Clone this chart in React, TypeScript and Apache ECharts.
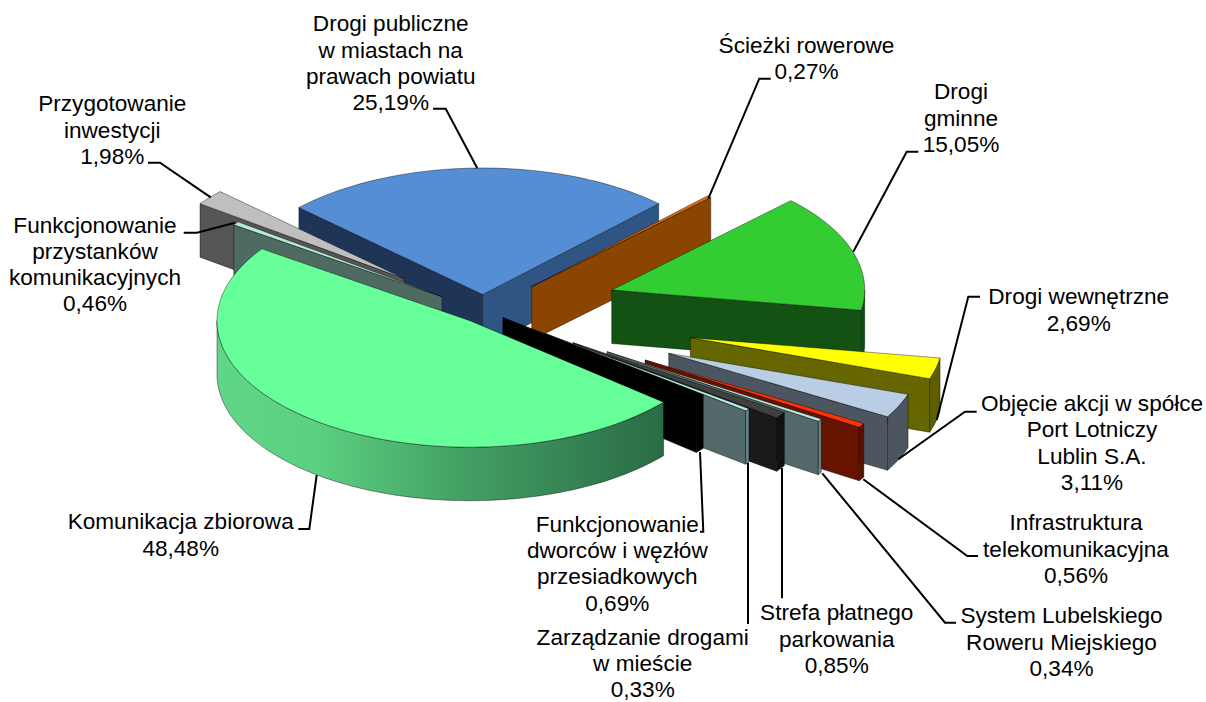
import React, { useEffect, useRef } from "react";
import * as echarts from "echarts";

// ---- data, in the pie's clockwise order
const sliceNames = [
  "Drogi publiczne\nw miastach na\nprawach powiatu",
  "Ścieżki rowerowe",
  "Drogi\ngminne",
  "Drogi wewnętrzne",
  "Objęcie akcji w spółce\nPort Lotniczy\nLublin S.A.",
  "Infrastruktura\ntelekomunikacyjna",
  "System Lubelskiego\nRoweru Miejskiego",
  "Strefa płatnego\nparkowania",
  "Zarządzanie drogami\nw mieście",
  "Funkcjonowanie\ndworców i węzłów\nprzesiadkowych",
  "Komunikacja zbiorowa",
  "Funkcjonowanie\nprzystanków\nkomunikacyjnych",
  "Przygotowanie\ninwestycji",
];
const sliceValues = [25.19, 0.27, 15.05, 2.69, 3.11, 0.56, 0.34, 0.85, 0.33, 0.69, 48.48, 0.46, 1.98];

// ---- styling, same order
const topColors = ["#558ed5", "#e46c0a", "#33cc33", "#ffff00", "#b9cde5", "#ff3300", "#b5ece6", "#404040", "#b5ece6", "#000000", "#66ff99", "#b5ecd8", "#bfbfbf"];
const startWallColors = ["#1f3558", "#8a4500", "#145214", "#666600", "#4d5660", "#661400", "#53696a", "#1a1a1a", "#53696a", "#000000", "#2a6b45", "#4f6a60", "#555555"];
const endWallColors = ["#2f5585", "#8a4500", "#145214", "#666600", "#4d5660", "#661400", "#53696a", "#1a1a1a", "#53696a", "#000000", "#2a6b45", "#4f6a60", "#555555"];
const outerColors = ["#2f5585", "#8a4500", "#124a12", "#5e5e00", "#4d5660", "#5a1200", "#6a8a8a", "#111111", "#6a8a8a", "#000000", "#2a6b45", "#4f6a60", "#555555"];
// where each slice's tip sits once exploded
const tips: [number, number][] = [
  [482.7, 294.5], [531.7, 286.7], [611.7, 290], [690.3, 337.7], [668.7, 353.3], [645, 360],
  [607, 351.7], [573, 342.7], [545.3, 333.6], [502.8, 317.6], [470, 320.7], [442, 296.7], [404, 278.5],
];
const drawOrder = [0, 1, 2, 3, 4, 5, 6, 7, 8, 9, 12, 11, 10];
const START_DEG = 136.6;
const RADIUS = 253;
const TILT = 0.5;
const DEPTH = 53.5;

// ---- labels
const labelCentres: [number, number][] = [
  [390.7, 63.4], [806.5, 58.5], [961, 118], [1078.7, 310], [1092, 443], [1076, 549], [1061.5, 642],
  [836.7, 639], [642.7, 663.5], [617.3, 563.7], [180.7, 535], [95, 264.5], [112.3, 130],
];
const leaderLines: [number, number][][] = [
  [[433, 108.7], [445.7, 108.7], [477.3, 168.3]],
  [[770.7, 78.7], [759.3, 78.7], [708.3, 198.7]],
  [[918.3, 151.7], [906.7, 151.7], [853.3, 251.7]],
  [[980, 296.7], [968.3, 296.7], [936.7, 420]],
  [[976.7, 411.7], [965, 411.7], [898.3, 459.3]],
  [[978, 556], [967.3, 556], [863.3, 479.3]],
  [[956, 622.7], [945, 622.7], [822.3, 473.3]],
  [[782, 598.3], [782, 468]],
  [[748, 624], [748, 463]],
  [[700, 531.7], [703.3, 531.7], [700, 452]],
  [[298.3, 529], [309.3, 529], [316.7, 475]],
  [[183.7, 232.7], [197, 232.7], [235, 222.7]],
  [[148, 162.7], [160, 162.7], [210.7, 197.3]],
];
const FONT_SIZE = 22.6;
const LINE_HEIGHT = 26.3;

const total = sliceValues.reduce((a, b) => a + b, 0);
const sliceAngles = sliceValues.map((_, i) => {
  const before = sliceValues.slice(0, i).reduce((a, b) => a + b, 0);
  return [START_DEG - (before / total) * 360, START_DEG - ((before + sliceValues[i]) / total) * 360];
});

const rad = (d: number) => (d * Math.PI) / 180;
const rim = (tip: [number, number], deg: number, drop = 0): [number, number] => [
  tip[0] + RADIUS * Math.cos(rad(deg)),
  tip[1] - RADIUS * TILT * Math.sin(rad(deg)) + drop,
];
const edgeStyle = (fill: any) => ({ fill, stroke: "rgba(0,0,0,0.5)", lineWidth: 0.8, lineJoin: "round" });

function renderSlice(params: any) {
  const idx = drawOrder[params.dataIndex];
  const [a0, a1] = sliceAngles[idx];
  const tip = tips[idx];
  const children: any[] = [];
  const poly = (points: [number, number][], fill: any) =>
    children.push({ type: "polygon", z2: params.dataIndex, shape: { points }, style: edgeStyle(fill) });
  const tipLow: [number, number] = [tip[0], tip[1] + DEPTH];

  if (Math.cos(rad(a0)) < 0) poly([tip, rim(tip, a0), rim(tip, a0, DEPTH), tipLow], startWallColors[idx]);
  if (Math.cos(rad(a1)) > 0) poly([tip, rim(tip, a1), rim(tip, a1, DEPTH), tipLow], endWallColors[idx]);

  // curved outer wall: only the part of the rim that faces the viewer
  const lo = a1;
  const hi = Math.min(a0, 0);
  const fromDeg = Math.max(lo, -180);
  if (hi > fromDeg) {
    const steps = Math.max(2, Math.ceil((hi - fromDeg) / 1.5));
    const upper: [number, number][] = [];
    const lower: [number, number][] = [];
    for (let s = 0; s <= steps; s++) {
      const d = fromDeg + ((hi - fromDeg) * s) / steps;
      upper.push(rim(tip, d));
      lower.push(rim(tip, d, DEPTH));
    }
    const fill =
      idx === 10
        ? new echarts.graphic.LinearGradient(0, 0, 1, 0, [
            { offset: 0, color: "#60d688" },
            { offset: 0.22, color: "#5cd080" },
            { offset: 0.55, color: "#43a064" },
            { offset: 1, color: "#2a6b45" },
          ])
        : outerColors[idx];
    poly([...upper, ...lower.reverse()], fill);
  }

  // top face
  const steps = Math.max(2, Math.ceil((a0 - a1) / 1.5));
  const face: [number, number][] = [tip];
  for (let s = 0; s <= steps; s++) face.push(rim(tip, a0 + ((a1 - a0) * s) / steps));
  poly(face, topColors[idx]);

  return { type: "group", children };
}

export default function App() {
  const ref = useRef<HTMLDivElement>(null);
  useEffect(() => {
    document.body.style.margin = "0";
    const chart = echarts.init(ref.current!, null, { renderer: "svg" });
    const labelElements = sliceNames.map((name, i) => ({
      type: "text",
      z: 20,
      x: labelCentres[i][0],
      y: labelCentres[i][1],
      style: {
        text: `${name}\n${sliceValues[i].toFixed(2).replace(".", ",")}%`,
        font: `${FONT_SIZE}px "Liberation Sans", Arial, sans-serif`,
        fill: "#000000",
        align: "center",
        verticalAlign: "middle",
        lineHeight: LINE_HEIGHT,
      },
    }));
    const lineElements = leaderLines.map((points) => ({
      type: "polyline",
      z: 10,
      shape: { points },
      style: { stroke: "#000000", lineWidth: 2, fill: "none" },
    }));
    chart.setOption({
      animation: false,
      backgroundColor: "#ffffff",
      series: [
        {
          type: "custom",
          coordinateSystem: "none",
          silent: true,
          renderItem: renderSlice,
          data: drawOrder.map((i) => ({ name: sliceNames[i], value: sliceValues[i] })),
        },
      ],
      graphic: { elements: [...lineElements, ...labelElements] },
    });
    return () => chart.dispose();
  }, []);
  return <div ref={ref} style={{ position: "absolute", left: 0, top: 0, width: 1206, height: 702 }} />;
}
